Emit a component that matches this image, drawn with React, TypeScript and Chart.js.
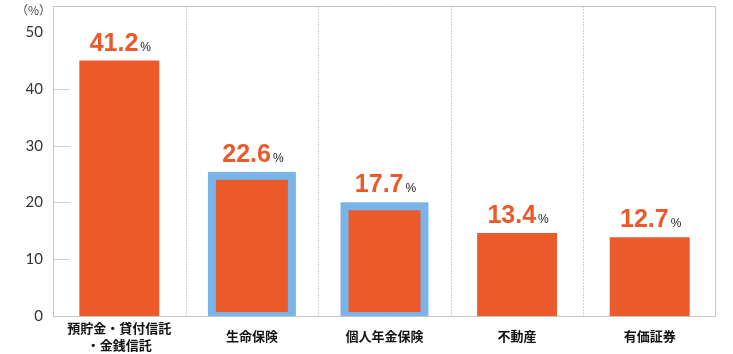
import React, { useEffect, useRef } from 'react';
import { Chart, registerables } from 'chart.js';

Chart.register(...registerables);

// ---- data ----
const categories: (string | string[])[] = [
  ['預貯金・貸付信託', '・金銭信託'],
  '生命保険',
  '個人年金保険',
  '不動産',
  '有価証券',
];
const values: number[] = [41.2, 22.6, 17.7, 13.4, 12.7];
const highlighted: number[] = [1, 2];
const yTickValues: number[] = [0, 10, 20, 30, 40, 50];
const unitLabel = '（%）';
const valueSuffix = '%';

// ---- style ----
const ORANGE = '#EB5A2B';
const BLUE = '#7BB4E8';
const FRAME = '#c6c6c6';
const DIVIDER = '#d2d2d2';

const zeroPad = (scale: any) => {
  scale.paddingTop = 0;
  scale.paddingBottom = 0;
  scale.paddingLeft = 0;
  scale.paddingRight = 0;
};

const overlay = {
  id: 'overlay',
  beforeDatasetsDraw(chart: any) {
    const { ctx, chartArea } = chart;
    const { left, right, top, bottom } = chartArea;
    const x = chart.scales.x;
    const yt = chart.scales.yAxis;
    ctx.save();
    // category dividers
    ctx.strokeStyle = DIVIDER;
    ctx.lineWidth = 1;
    ctx.setLineDash([2, 1]);
    for (let i = 1; i < categories.length; i++) {
      const px = Math.round((x.getPixelForValue(i - 1) + x.getPixelForValue(i)) / 2) + 0.5;
      ctx.beginPath();
      ctx.moveTo(px, top);
      ctx.lineTo(px, bottom);
      ctx.stroke();
    }
    ctx.setLineDash([]);
    // frame
    ctx.strokeStyle = FRAME;
    ctx.beginPath();
    ctx.moveTo(left + 0.5, top + 0.5);
    ctx.lineTo(right - 0.5, top + 0.5);
    ctx.lineTo(right - 0.5, bottom);
    ctx.moveTo(left + 0.5, top);
    ctx.lineTo(left + 0.5, bottom + 0.5);
    ctx.lineTo(right, bottom + 0.5);
    ctx.stroke();
    // inner tick marks
    ctx.strokeStyle = '#cfcfcf';
    yTickValues.forEach((v) => {
      if (v === yTickValues[0] || v === yTickValues[yTickValues.length - 1]) return;
      const py = Math.round(yt.getPixelForValue(v)) + 0.5;
      ctx.beginPath();
      ctx.moveTo(left, py);
      ctx.lineTo(left + 17, py);
      ctx.stroke();
    });
    // unit label
    ctx.fillStyle = '#444';
    ctx.font = '12px "Noto Sans CJK JP"';
    ctx.textAlign = 'left';
    ctx.textBaseline = 'middle';
    ctx.fillText(unitLabel, 16, 10);
    ctx.restore();
  },
  afterDatasetsDraw(chart: any) {
    const { ctx, chartArea } = chart;
    const meta = chart.getDatasetMeta(0);
    ctx.save();
    // highlight outlines
    ctx.save();
    ctx.beginPath();
    ctx.rect(0, 0, chart.width, chartArea.bottom);
    ctx.clip();
    ctx.strokeStyle = BLUE;
    ctx.lineWidth = 8;
    highlighted.forEach((i) => {
      const b = meta.data[i].getProps(['x', 'y', 'base', 'width'], true);
      ctx.strokeRect(b.x - b.width / 2, b.y, b.width, b.base - b.y);
    });
    ctx.restore();
    // value labels
    meta.data.forEach((el: any, i: number) => {
      const b = el.getProps(['x', 'y'], true);
      const numStr = values[i].toFixed(1);
      ctx.font = 'bold 25px "Liberation Sans", Arial, sans-serif';
      const w1 = ctx.measureText(numStr).width;
      ctx.font = '12px "Liberation Sans", Arial, sans-serif';
      const w2 = ctx.measureText(valueSuffix).width;
      const gap = 2;
      const total = w1 + gap + w2;
      const sx = b.x - total / 2 + 1;
      const baseY = b.y - (highlighted.includes(i) ? 4 : 0) - 10;
      ctx.textAlign = 'left';
      ctx.textBaseline = 'alphabetic';
      ctx.font = 'bold 25px "Liberation Sans", Arial, sans-serif';
      ctx.fillStyle = ORANGE;
      ctx.fillText(numStr, sx, baseY);
      ctx.font = '12px "Liberation Sans", Arial, sans-serif';
      ctx.fillStyle = '#222';
      ctx.fillText(valueSuffix, sx + w1 + gap, baseY);
    });
    ctx.restore();
  },
};

export default function App() {
  const ref = useRef<HTMLCanvasElement | null>(null);
  useEffect(() => {
    if (!ref.current) return;
    const chart = new Chart(ref.current, {
      type: 'bar',
      data: {
        labels: categories as any,
        datasets: [
          {
            data: values,
            backgroundColor: ORANGE,
            borderWidth: 0,
            barPercentage: 0.603,
            categoryPercentage: 1,
            yAxisID: 'y',
          },
        ],
      },
      options: {
        animation: false,
        responsive: false,
        devicePixelRatio: 1,
        layout: { padding: { left: 0, right: 17, top: 6, bottom: 0 } },
        plugins: { legend: { display: false }, tooltip: { enabled: false } },
        scales: {
          x: {
            grid: { display: false, drawTicks: false },
            border: { display: false },
            ticks: {
              padding: 12,
              crossAlign: 'center',
              color: '#111',
              font: { family: '"Noto Sans CJK JP"', size: 13, weight: 'bold', lineHeight: 1.3 },
              maxRotation: 0,
              autoSkip: false,
            },
            afterFit(scale: any) {
              scale.height = 38;
              zeroPad(scale);
            },
          },
          y: {
            display: false,
            min: 0,
            max: 50,
          },
          yAxis: {
            type: 'linear',
            position: 'left',
            min: 0,
            max: 54.6,
            grid: { display: false, drawTicks: false },
            border: { display: false },
            afterBuildTicks(axis: any) {
              axis.ticks = yTickValues.map((v) => ({ value: v }));
            },
            ticks: {
              padding: 10,
              color: '#333',
              font: { family: 'Lato, "Open Sans", sans-serif', size: 15 },
              callback: (v: any) => String(v),
            },
            afterFit(scale: any) {
              scale.width = 53;
              zeroPad(scale);
            },
          },
        },
      } as any,
      plugins: [overlay],
    });
    return () => chart.destroy();
  }, []);
  return (
    <div style={{ position: 'absolute', left: 0, top: 0, width: 733, height: 354, background: '#fff' }}>
      <canvas ref={ref} width={733} height={354} style={{ display: 'block', width: 733, height: 354 }} />
    </div>
  );
}
